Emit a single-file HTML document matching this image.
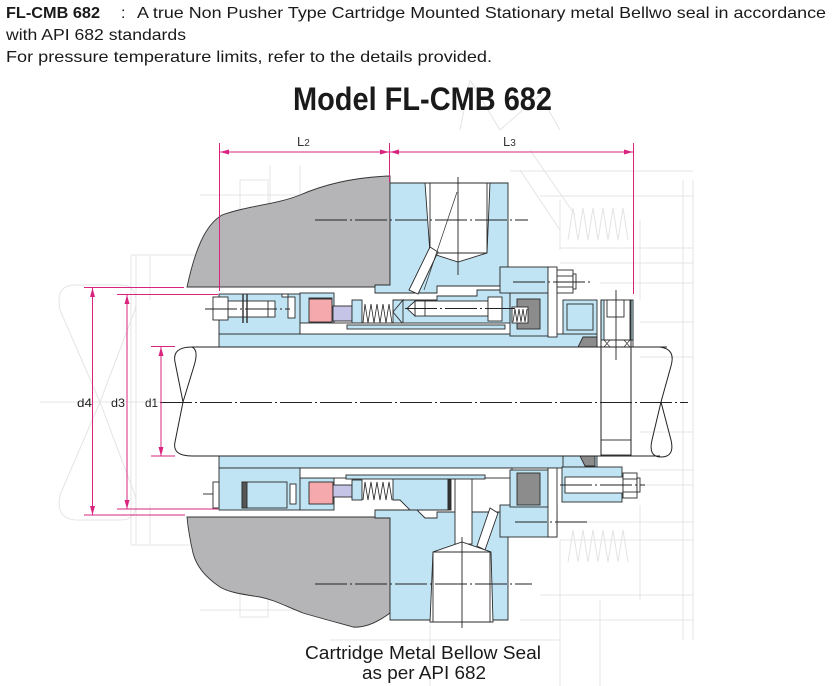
<!DOCTYPE html>
<html><head><meta charset="utf-8"><style>
html,body{margin:0;padding:0;background:#fff;}
svg{display:block;}
text{font-family:"Liberation Sans",Arial,sans-serif;}
</style></head><body>
<svg width="832" height="686" viewBox="0 0 832 686" xmlns="http://www.w3.org/2000/svg">
<rect width="832" height="686" fill="#fff"/>

<!-- header text -->
<text x="6" y="18" font-size="16" font-weight="bold" fill="#1a1a1a" textLength="94" lengthAdjust="spacingAndGlyphs">FL-CMB 682</text>
<text x="121" y="18" font-size="16" fill="#1a1a1a">:</text>
<text x="137" y="18" font-size="16" fill="#1a1a1a" textLength="689" lengthAdjust="spacingAndGlyphs">A true Non Pusher Type Cartridge Mounted Stationary metal Bellwo seal in accordance</text>
<text x="6" y="40" font-size="16" fill="#1a1a1a" textLength="180" lengthAdjust="spacingAndGlyphs">with API 682 standards</text>
<text x="6" y="62" font-size="16" fill="#1a1a1a" textLength="486" lengthAdjust="spacingAndGlyphs">For pressure temperature limits, refer to the details provided.</text>

<!-- faint background pump drawing -->
<g stroke="#e4e4e4" fill="none" stroke-width="1">
  <path d="M470,80 L500,130 L540,95 M470,80 L460,130 M540,95 L560,130"/>
  <path d="M75,285 Q55,285 60,310 L100,402 L60,495 Q55,520 78,520 L120,520 Q140,520 135,495 L100,402 L135,310 Q140,285 120,285 Z"/>
  <line x1="131" y1="255" x2="131" y2="545"/><line x1="136" y1="255" x2="136" y2="545"/>
  <line x1="150" y1="255" x2="150" y2="300"/><line x1="150" y1="505" x2="150" y2="545"/>
  <line x1="131" y1="255" x2="200" y2="255"/><line x1="131" y1="545" x2="200" y2="545"/>
  <line x1="40" y1="402" x2="160" y2="402"/>
  <rect x="240" y="180" width="28" height="42"/><rect x="240" y="575" width="28" height="42"/>
  <line x1="200" y1="195" x2="390" y2="195"/><line x1="200" y1="610" x2="390" y2="610"/>
  <line x1="270" y1="165" x2="270" y2="220"/><line x1="300" y1="165" x2="300" y2="195"/>
  <line x1="683" y1="180" x2="683" y2="640"/><line x1="693" y1="180" x2="693" y2="640"/>
  <line x1="510" y1="171" x2="693" y2="171"/><line x1="540" y1="196" x2="693" y2="196"/>
  <line x1="560" y1="248" x2="693" y2="248"/><line x1="560" y1="263" x2="693" y2="263"/>
  <line x1="600" y1="283" x2="693" y2="283"/><line x1="640" y1="322" x2="693" y2="322"/>
  <line x1="640" y1="357" x2="693" y2="357"/><line x1="640" y1="432" x2="693" y2="432"/>
  <line x1="640" y1="470" x2="693" y2="470"/><line x1="560" y1="485" x2="693" y2="485"/>
  <line x1="560" y1="522" x2="693" y2="522"/><line x1="560" y1="540" x2="693" y2="540"/>
  <line x1="540" y1="595" x2="693" y2="595"/><line x1="520" y1="620" x2="693" y2="620"/>
  <line x1="640" y1="220" x2="640" y2="300"/><line x1="640" y1="505" x2="640" y2="600"/>
  <line x1="560" y1="200" x2="560" y2="250"/><line x1="560" y1="540" x2="560" y2="600"/>
  <path d="M568,240 L573,208 L578,240 L583,208 L588,240 L593,208 L598,240 L603,208 L608,240 L613,208 L618,240 L623,208 L628,240"/>
  <path d="M568,562 L573,530 L578,562 L583,530 L588,562 L593,530 L598,562 L603,530 L608,562 L613,530 L618,562 L623,530 L628,562"/>
  <path d="M520,170 L560,230 M530,150 L575,215"/>
  <line x1="330" y1="640" x2="560" y2="640"/><line x1="430" y1="625" x2="430" y2="686"/>
  <line x1="560" y1="600" x2="560" y2="686"/><line x1="600" y1="600" x2="600" y2="686"/>
  <line x1="200" y1="560" x2="390" y2="560"/><line x1="200" y1="245" x2="390" y2="245"/>
</g>

<!-- gray housing -->
<path d="M187,287 C195,250 205,225 222,215 C250,205 275,205 300,195 C330,182 360,177 390,176 L390,287 Z" fill="#b5b5b7" stroke="#333" stroke-width="0.9"/>
<path d="M187,517 L390,517 L390,613 C378,622 365,628 353,627 C335,622 320,618 303,613 C285,606 275,600 260,597 C240,594 228,592 220,587 C205,577 196,565 193,553 C190,540 188,528 187,517 Z" fill="#b5b5b7" stroke="#333" stroke-width="0.9"/>
<rect x="390" y="262" width="8" height="22" fill="#7d7d7d" stroke="#333" stroke-width="0.8"/>
<rect x="390" y="520" width="8" height="22" fill="#7d7d7d" stroke="#333" stroke-width="0.8"/>

<g stroke="#2b2b2b" stroke-width="0.9">
<!-- ===== TOP HALF ===== -->
<polygon points="375,285 390,285 390,183 508,183 508,267 500,267 500,286 437,286 437,293 375,293" fill="#c0e4f4"/>
<polygon points="425,183 490,183 487,253 458,262 430,253" fill="#fff"/>
<line x1="430" y1="183" x2="430" y2="253"/><line x1="487" y1="183" x2="487" y2="253"/>
<line x1="430" y1="253" x2="487" y2="253"/>
<polygon points="430,247 438,252 418,294 409,290" fill="#fff"/>
<line x1="457" y1="192" x2="424" y2="290" stroke-width="0.7"/>

<rect x="219" y="334" width="378" height="13" fill="#c0e4f4"/>
<rect x="219" y="294" width="81" height="40" fill="#c0e4f4"/>
<rect x="282" y="294" width="6" height="3" fill="#fff"/>
<rect x="288" y="297" width="7" height="21" fill="#fff"/>
<rect x="300" y="293" width="34" height="30" fill="#c0e4f4"/>
<rect x="309" y="298" width="23" height="24" fill="#f5a9ad"/>
<rect x="309" y="297.5" width="23" height="2" fill="#333" stroke="none"/>
<rect x="333" y="306" width="19" height="15" fill="#c5c3e6"/>
<rect x="352" y="300" width="10" height="23" fill="#c0e4f4"/>
<polygon points="393,300 437,300 437,296 477,296 477,290 510,290 510,330 393,330" fill="#c0e4f4"/>
<polygon points="393,312 403,300 403,324" fill="#c0e4f4"/>
<rect x="300" y="323" width="212" height="11" fill="#fff"/>
<rect x="347" y="325" width="158" height="4" fill="#c0e4f4"/>
<rect x="415" y="301" width="73" height="15" fill="#fff"/>
<polygon points="407,308.5 415,301 415,316" fill="#fff"/>
<rect x="488" y="297" width="14" height="24" fill="#fff"/>
<line x1="425" y1="301" x2="425" y2="316"/>
<rect x="510" y="293" width="38" height="43" fill="#c0e4f4"/>
<rect x="517" y="299" width="23" height="30" fill="#8c8c8c"/>
<rect x="512" y="307" width="16" height="16" fill="#fff"/>
<rect x="500" y="267" width="48" height="26" fill="#c0e4f4"/>
<rect x="548" y="267" width="9" height="70" fill="#fff"/>
<rect x="557" y="270" width="16" height="23" fill="#fff"/>
<line x1="557" y1="276" x2="573" y2="276"/><line x1="557" y1="287" x2="573" y2="287"/>
<rect x="573" y="274" width="3" height="15" fill="#fff"/>
<rect x="563" y="300" width="34" height="34" fill="#c0e4f4"/>
<rect x="567" y="304" width="26" height="26" fill="none"/>
<polygon points="583,337 597,337 597,347 578,347" fill="#8c8c8c"/>
<rect x="601" y="300" width="32" height="47" fill="#fff"/>
<rect x="601" y="300" width="3" height="40" fill="#c0e4f4"/>
<rect x="630" y="300" width="3" height="40" fill="#c0e4f4"/>
<rect x="607" y="300" width="17" height="17" fill="#fff"/>
<path d="M604,340 L610,347 M604,347 L610,340 M624,340 L630,347 M624,347 L630,340" fill="none" stroke-width="0.6"/>
<line x1="604" y1="340" x2="630" y2="340"/>
<rect x="228" y="301" width="47" height="16" fill="#fff"/>
<rect x="213" y="297" width="15" height="23" fill="#fff"/>
<line x1="268" y1="301" x2="268" y2="317"/>
<line x1="243" y1="294" x2="243" y2="323" stroke-width="1.4"/>
<line x1="247" y1="294" x2="247" y2="323" stroke-width="1.4"/>

<!-- ===== BOTTOM HALF ===== -->
<rect x="219" y="456" width="364" height="12" fill="#c0e4f4"/>
<rect x="219" y="468" width="81" height="42" fill="#c0e4f4"/>
<rect x="242" y="482" width="45" height="26" fill="#c0e4f4"/>
<rect x="242" y="482" width="5" height="26" fill="#555"/>
<rect x="213" y="482" width="6" height="26" fill="#fff"/>
<rect x="290" y="484" width="6" height="20" fill="#fff"/>
<rect x="300" y="478" width="34" height="32" fill="#c0e4f4"/>
<rect x="309" y="482" width="24" height="22" fill="#f5a9ad"/>
<rect x="333" y="485" width="19" height="12" fill="#c5c3e6"/>
<rect x="352" y="480" width="10" height="20" fill="#c0e4f4"/>
<polygon points="393,478 448,478 448,510 410,510 400,500 393,500" fill="#c0e4f4"/>
<rect x="448" y="478" width="3" height="32" fill="#333"/>
<polygon points="375,510 417,510 425,518 437,518 437,512 508,512 508,620 390,620 390,518 375,518" fill="#c0e4f4"/>
<rect x="455" y="478" width="17" height="66" fill="#fff"/>
<polygon points="490,508 498,513 485,550 477,546" fill="#fff"/>
<polygon points="430,622 433,552 462,542 491,552 493,622" fill="#fff"/>
<line x1="433" y1="552" x2="433" y2="622"/><line x1="490" y1="552" x2="490" y2="622"/>
<line x1="433" y1="552" x2="490" y2="552"/>
<rect x="300" y="468" width="212" height="10" fill="#fff"/>
<rect x="346" y="475" width="139" height="4" fill="#c0e4f4"/>
<rect x="500" y="505" width="57" height="32" fill="#c0e4f4"/>
<rect x="510" y="470" width="38" height="37" fill="#c0e4f4"/>
<rect x="517" y="473" width="23" height="32" fill="#8c8c8c"/>
<rect x="548" y="468" width="9" height="69" fill="#fff"/>
<rect x="563" y="456" width="34" height="11" fill="#c0e4f4"/>
<polygon points="580,456 595,456 595,466 585,466" fill="#8c8c8c"/>
<rect x="562" y="467" width="60" height="35" fill="#c0e4f4"/>
<rect x="565" y="477" width="58" height="16" fill="#fff"/>
<rect x="623" y="473" width="14" height="25" fill="#fff"/>
<line x1="623" y1="479" x2="637" y2="479"/><line x1="623" y1="492" x2="637" y2="492"/>
<rect x="637" y="478" width="3" height="14" fill="#fff"/>
<rect x="601" y="440" width="30" height="15" fill="none"/>
</g>

<!-- springs -->
<g fill="none" stroke="#222" stroke-width="0.8">
<path d="M363,323 L365,304 L368,323 L371,304 L374,323 L377,304 L380,323 L383,304 L386,323 L389,304 L392,323"/>
<path d="M363,500 L365,482 L368,500 L371,482 L374,500 L377,482 L380,500 L383,482 L386,500 L389,482 L392,500"/>
<path d="M513,322 L515,309 L517,322 L519,309 L521,322 L523,309 L525,322 L527,309"/>
</g>

<!-- shaft -->
<g fill="none" stroke="#222" stroke-width="1">
<line x1="192" y1="347" x2="667" y2="347"/>
<line x1="192" y1="456" x2="660" y2="456"/>
<path d="M192,347 Q172,347 175,362 L183,402 L175,442 Q172,456 192,456"/>
<path d="M192,347 Q199,350 194,366 L183,402"/>
<path d="M660,347 Q676,349 671,366 L661,402 L671,440 Q675,457 661,457 Q648,457 652,440 L661,402"/>
<line x1="601" y1="300" x2="601" y2="456"/>
<line x1="631" y1="300" x2="631" y2="456"/>
</g>

<!-- centerlines -->
<g stroke="#222" stroke-width="0.9" fill="none" stroke-dasharray="32 3 2 3">
<line x1="160" y1="402.5" x2="688" y2="402.5"/>
<line x1="315" y1="220" x2="528" y2="220"/>
<line x1="315" y1="584" x2="532" y2="584"/>
<line x1="205" y1="309" x2="290" y2="309"/>
<line x1="405" y1="308.5" x2="515" y2="308.5"/>
<line x1="513" y1="282" x2="590" y2="282"/>
<line x1="515" y1="522" x2="590" y2="522"/>
<line x1="560" y1="485" x2="645" y2="485"/>
<line x1="203" y1="494" x2="213" y2="494"/>
</g>
<g stroke="#222" stroke-width="0.9">
<line x1="458" y1="177" x2="458" y2="275"/>
<line x1="462" y1="537" x2="462" y2="628"/>
<line x1="616" y1="290" x2="616" y2="360"/>
</g>

<!-- dimensions -->
<g stroke="#d8247f" stroke-width="1" fill="none">
<line x1="219.5" y1="143" x2="219.5" y2="291"/>
<line x1="389.5" y1="143" x2="389.5" y2="182"/>
<line x1="633.5" y1="143" x2="633.5" y2="294"/>
<line x1="220" y1="152" x2="633" y2="152"/>
<line x1="84" y1="287.5" x2="184" y2="287.5"/>
<line x1="84" y1="515" x2="185" y2="515"/>
<line x1="92.5" y1="288" x2="92.5" y2="515"/>
<line x1="117" y1="294.5" x2="218" y2="294.5"/>
<line x1="117" y1="509" x2="218" y2="509"/>
<line x1="127" y1="295" x2="127" y2="509"/>
<line x1="151" y1="346.5" x2="175" y2="346.5"/>
<line x1="151" y1="456" x2="175" y2="456"/>
<line x1="161" y1="347" x2="161" y2="456"/>
</g>
<g fill="#d8247f">
<polygon points="220,152 229,149.5 229,154.5"/>
<polygon points="389,152 380,149.5 380,154.5"/>
<polygon points="390,152 399,149.5 399,154.5"/>
<polygon points="633,152 624,149.5 624,154.5"/>
<polygon points="92.5,288 90,297 95,297"/>
<polygon points="92.5,515 90,506 95,506"/>
<polygon points="127,295 124.5,304 129.5,304"/>
<polygon points="127,509 124.5,500 129.5,500"/>
<polygon points="161,347 158.5,356 163.5,356"/>
<polygon points="161,456 158.5,447 163.5,447"/>
</g>
<text x="297" y="146" font-size="13" fill="#333">L<tspan font-size="10">2</tspan></text>
<text x="503" y="146" font-size="13" fill="#333">L<tspan font-size="10">3</tspan></text>
<text x="77" y="407" font-size="12" fill="#222" textLength="15" lengthAdjust="spacingAndGlyphs">d4</text>
<text x="111" y="407" font-size="12" fill="#222" textLength="14" lengthAdjust="spacingAndGlyphs">d3</text>
<text x="145" y="407" font-size="12" fill="#222" textLength="13" lengthAdjust="spacingAndGlyphs">d1</text>

<!-- title -->
<text x="293" y="110" font-size="32" font-weight="bold" fill="#1a1a1a" textLength="259" lengthAdjust="spacingAndGlyphs">Model FL-CMB 682</text>

<!-- caption -->
<text x="305" y="659" font-size="18" fill="#1a1a1a" textLength="236" lengthAdjust="spacingAndGlyphs">Cartridge Metal Bellow Seal</text>
<text x="362" y="679" font-size="18" fill="#1a1a1a" textLength="124" lengthAdjust="spacingAndGlyphs">as per API 682</text>
</svg>
</body></html>
